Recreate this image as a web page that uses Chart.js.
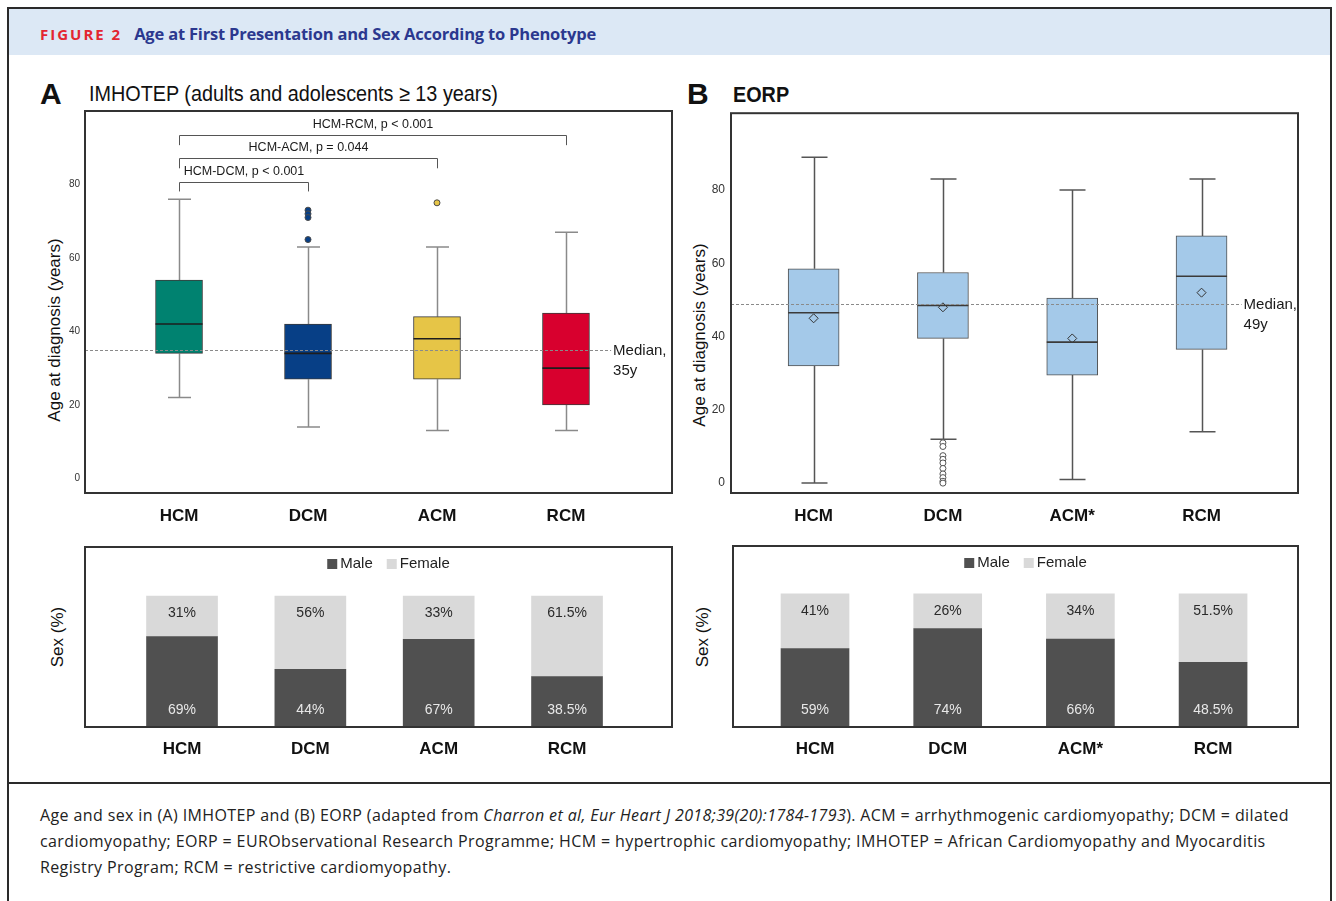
<!DOCTYPE html>
<html>
<head>
<meta charset="utf-8">
<script src="https://cdn.jsdelivr.net/npm/chart.js@4.4.1/dist/chart.umd.min.js"></script>
<style>
  body { margin: 0; background: #fff; }
  #fig { position: relative; width: 1336px; height: 901px; overflow: hidden; font-family: "Liberation Sans", Arial, sans-serif; color: #111; }
  .abs { position: absolute; }
  #frame { left: 7px; top: 7px; width: 1321px; height: 1000px; border: 2px solid #2a2a2a; }
  #band { left: 9px; top: 9px; width: 1321px; height: 46px; background: #dce8f5; }
  #head { left: 40px; top: 22px; font-family: "Open Sans", "Noto Sans", sans-serif; font-weight: 700; font-size: 16.5px; white-space: nowrap; letter-spacing: -0.2px; }
  #head .fig { color: #e32631; letter-spacing: 2px; font-size: 15px; margin-right: 12px; }
  #head .ttl { color: #2b388f; }
  #rule { left: 9px; top: 782px; width: 1321px; height: 2px; background: #2a2a2a; }
  #caption { left: 40px; top: 802px; font-family: "Open Sans", "Noto Sans", sans-serif; font-size: 16px; line-height: 26px; color: #222; white-space: nowrap; letter-spacing: 0.38px; }
  .letter { font-size: 30px; font-weight: 700; line-height: 30px; }
  .ptitle { font-size: 22px; line-height: 24px; transform: scaleX(0.9); transform-origin: 0 50%; white-space: nowrap; }
  .ytitle { font-size: 17px; line-height: 20px; white-space: nowrap; transform: translate(-50%, -50%) rotate(-90deg); color: #111; }
  canvas { position: absolute; }
</style>
</head>
<body>
<div id="fig">
  <div id="band" class="abs"></div>
  <div id="frame" class="abs"></div>
  <div id="head" class="abs"><span class="fig">FIGURE 2</span><span class="ttl">Age at First Presentation and Sex According to Phenotype</span></div>

  <div class="abs letter" style="left:40px;top:79px;">A</div>
  <div class="abs ptitle" style="left:89px;top:82px;">IMHOTEP (adults and adolescents ≥ 13 years)</div>
  <div class="abs letter" style="left:687px;top:79px;">B</div>
  <div class="abs ptitle" style="left:733px;top:83px;font-weight:700;">EORP</div>

  <div class="abs ytitle" style="left:55px;top:330px;">Age at diagnosis (years)</div>
  <div class="abs ytitle" style="left:700px;top:335px;">Age at diagnosis (years)</div>
  <div class="abs ytitle" style="left:58px;top:637px;">Sex (%)</div>
  <div class="abs ytitle" style="left:703px;top:637px;">Sex (%)</div>

  <canvas id="boxA" width="670" height="440" style="left:20px;top:100px;"></canvas>
  <canvas id="boxB" width="660" height="440" style="left:665px;top:100px;"></canvas>
  <canvas id="sexA" width="670" height="235" style="left:20px;top:540px;"></canvas>
  <canvas id="sexB" width="660" height="235" style="left:665px;top:540px;"></canvas>

  <div id="rule" class="abs"></div>
  <div id="caption" class="abs">Age and sex in (A) IMHOTEP and (B) EORP (adapted from <i>Charron et al, Eur Heart J 2018;39(20):1784-1793</i>). ACM = arrhythmogenic cardiomyopathy; DCM = dilated<br>cardiomyopathy; EORP = EURObservational Research Programme; HCM = hypertrophic cardiomyopathy; IMHOTEP = African Cardiomyopathy and Myocarditis<br>Registry Program; RCM = restrictive cardiomyopathy.</div>
</div>

<script>
// Panel A — IMHOTEP, age at diagnosis (years)
const categoriesA = ["HCM", "DCM", "ACM", "RCM"];
const lowA = [22, 14, 13, 13];
const q1A = [34, 27, 27, 20];
const medianA = [42, 34, 38, 30];
const q3A = [54, 42, 44, 45];
const highA = [76, 63, 63, 67];
const outliersA = [[], [73, 72, 71, 65], [75], []];
const overallMedianA = 35;
const comparisonsA = [
  { to: 2, label: "HCM-DCM, p < 0.001" },
  { to: 3, label: "HCM-ACM, p = 0.044" },
  { to: 4, label: "HCM-RCM, p < 0.001" },
];

// Panel B — EORP, age at diagnosis (years)
const categoriesB = ["HCM", "DCM", "ACM*", "RCM"];
const lowB = [0, 12, 1, 14];
const q1B = [32, 39.5, 29.5, 36.5];
const medianB = [46.5, 48.5, 38.5, 56.5];
const q3B = [58.5, 57.5, 50.5, 67.5];
const highB = [89, 83, 80, 83];
const meanB = [45, 48, 39.5, 52];
const outliersB = [[], [11, 10, 7.5, 6.5, 5.5, 4, 2.5, 1.5, 0.5, 0], [], []];
const overallMedianB = 49;

const ageTicks = [0, 20, 40, 60, 80];

// Sex (%)
const maleA = [69, 44, 67, 38.5];
const femaleA = [31, 56, 33, 61.5];
const maleB = [59, 74, 66, 48.5];
const femaleB = [41, 26, 34, 51.5];

const FONT = "'Liberation Sans', Arial, sans-serif";

// chart area frame
const frame = {
  id: "frame",
  afterDraw(chart) {
    const { ctx, chartArea: a } = chart;
    ctx.save();
    ctx.strokeStyle = "#333";
    ctx.lineWidth = 2;
    ctx.strokeRect(a.left, a.top, a.right - a.left, a.bottom - a.top);
    ctx.restore();
  },
};

// whiskers, medians, overall median line, significance brackets
function boxDecor(s) {
  return {
    id: "boxDecor",
    beforeDatasetsDraw(chart) {
      const { ctx, scales: { x, y } } = chart;
      ctx.save();
      ctx.strokeStyle = s.whiskerColor;
      ctx.lineWidth = 1.5;
      s.low.forEach((lo, i) => {
        const px = Math.round(x.getPixelForValue(i + 1)) + 0.5;
        const cap = s.capWidth / 2;
        ctx.beginPath();
        ctx.moveTo(px, y.getPixelForValue(lo));
        ctx.lineTo(px, y.getPixelForValue(s.q1[i]));
        ctx.moveTo(px, y.getPixelForValue(s.q3[i]));
        ctx.lineTo(px, y.getPixelForValue(s.high[i]));
        [lo, s.high[i]].forEach((v) => {
          const py = y.getPixelForValue(v);
          ctx.moveTo(px - cap, py);
          ctx.lineTo(px + cap, py);
        });
        ctx.stroke();
      });
      ctx.restore();
    },
    afterDatasetsDraw(chart) {
      const { ctx, chartArea: a, scales: { x, y } } = chart;
      const bars = chart.getDatasetMeta(0).data;
      ctx.save();
      // medians inside boxes
      ctx.strokeStyle = s.medianColor;
      ctx.lineWidth = 1.6;
      s.median.forEach((m, i) => {
        const b = bars[i];
        const py = y.getPixelForValue(m);
        ctx.beginPath();
        ctx.moveTo(b.x - b.width / 2, py);
        ctx.lineTo(b.x + b.width / 2, py);
        ctx.stroke();
      });
      // overall median
      const my = Math.round(y.getPixelForValue(s.overall)) + 0.5;
      const endX = x.getPixelForValue(s.lineEnd);
      ctx.strokeStyle = "#8a8a8a";
      ctx.lineWidth = 1;
      ctx.setLineDash([3, 2]);
      ctx.beginPath();
      ctx.moveTo(a.left, my);
      ctx.lineTo(endX, my);
      ctx.stroke();
      ctx.setLineDash([]);
      ctx.fillStyle = "#1a1a1a";
      ctx.font = "15px " + FONT;
      ctx.textBaseline = "middle";
      ctx.textAlign = "left";
      ctx.fillText("Median,", endX + 2, my);
      ctx.fillText(s.overall + "y", endX + 2, my + 20);
      // brackets
      (s.comparisons || []).forEach((c, k) => {
        const lvl = 80.8 + k * 6.3;
        const ly = Math.round(y.getPixelForValue(lvl)) + 0.5;
        const dy = y.getPixelForValue(lvl - 2.7);
        const x1 = Math.round(x.getPixelForValue(1)) + 0.5;
        const x2 = Math.round(x.getPixelForValue(c.to)) + 0.5;
        ctx.strokeStyle = "#555";
        ctx.lineWidth = 1;
        ctx.beginPath();
        ctx.moveTo(x1, dy);
        ctx.lineTo(x1, ly);
        ctx.lineTo(x2, ly);
        ctx.lineTo(x2, dy);
        ctx.stroke();
        ctx.fillStyle = "#1a1a1a";
        ctx.font = "12.5px " + FONT;
        ctx.textAlign = "center";
        ctx.fillText(c.label, (x1 + x2) / 2, ly - 11);
      });
      ctx.restore();
    },
  };
}

function boxChart(id, cats, st, look) {
  const datasets = [
    {
      type: "bar",
      data: cats.map((c, i) => ({ x: i + 1, y: [st.q1[i], st.q3[i]] })),
      backgroundColor: look.boxColors,
      borderColor: look.boxBorder,
      borderWidth: 1,
      borderSkipped: false,
      barThickness: look.boxWidth,
      order: 2,
    },
    {
      type: "scatter",
      data: st.outliers.flatMap((list, i) => list.map((v) => ({ x: i + 1, y: v }))),
      pointRadius: 3,
      pointBackgroundColor: st.outliers.flatMap((list, i) => list.map(() => look.outlierFill[i])),
      pointBorderColor: look.outlierBorder,
      pointBorderWidth: 1,
      order: 1,
    },
  ];
  if (st.mean) {
    datasets.push({
      type: "scatter",
      data: st.mean.map((v, i) => ({ x: i + 1, y: v })),
      pointStyle: "rectRot",
      pointRadius: 4.5,
      pointBackgroundColor: "rgba(0,0,0,0)",
      pointBorderColor: "#333",
      pointBorderWidth: 1,
      order: 0,
    });
  }
  return new Chart(document.getElementById(id), {
    data: { datasets },
    options: {
      responsive: false,
      animation: false,
      devicePixelRatio: 1,
      layout: { padding: look.padding },
      plugins: { legend: { display: false }, tooltip: { enabled: false } },
      scales: {
        x: {
          type: "linear",
          offset: false,
          min: look.xMin,
          max: look.xMax,
          grid: { display: false, drawTicks: false, offset: false },
          border: { display: false },
          afterBuildTicks: (sc) => { sc.ticks = cats.map((c, i) => ({ value: i + 1 })); },
          afterFit: (sc) => { sc.height = look.xAxisHeight; },
          ticks: {
            autoSkip: false,
            maxRotation: 0,
            padding: 13,
            color: "#111",
            font: { family: FONT, size: 17, weight: "bold" },
            callback: (v) => cats[v - 1],
          },
        },
        y: {
          min: look.yMin,
          max: look.yMax,
          grid: { display: false, drawTicks: false },
          border: { display: false },
          afterBuildTicks: (sc) => { sc.ticks = ageTicks.map((v) => ({ value: v })); },
          afterFit: (sc) => { sc.width = look.yAxisWidth; },
          ticks: { padding: look.tickPad, color: "#333", font: { family: FONT, size: look.tickSize } },
        },
      },
    },
    plugins: [boxDecor(Object.assign({}, st, look.decor)), frame],
  });
}

// legend drawn inside the plot frame
const innerLegend = {
  id: "innerLegend",
  afterDraw(chart) {
    const { ctx, chartArea: a } = chart;
    ctx.save();
    ctx.font = "15px " + FONT;
    ctx.textBaseline = "middle";
    const items = chart.data.datasets.map((d) => ({ text: d.label, color: d.backgroundColor }));
    const gap = 14;
    const widths = items.map((it) => 13 + ctx.measureText(it.text).width);
    const total = widths.reduce((p, w) => p + w, 0) + gap * (items.length - 1);
    let cx = (a.left + a.right) / 2 + 10 - total / 2;
    const cy = a.top + 17;
    items.forEach((it, i) => {
      ctx.fillStyle = it.color;
      ctx.fillRect(cx, cy - 5, 10, 10);
      ctx.fillStyle = "#222";
      ctx.fillText(it.text, cx + 13, cy);
      cx += widths[i] + gap;
    });
    ctx.restore();
  },
};

// percent labels on the stacked bars
const barLabels = {
  id: "barLabels",
  afterDatasetsDraw(chart) {
    const { ctx } = chart;
    ctx.save();
    ctx.font = "14px " + FONT;
    ctx.textAlign = "center";
    ctx.textBaseline = "middle";
    chart.data.datasets.forEach((ds, di) => {
      chart.getDatasetMeta(di).data.forEach((el, i) => {
        const v = ds.data[i].y;
        if (di === 0) {
          ctx.fillStyle = "#e8e8e8";
          ctx.fillText(v + "%", el.x, el.base - 17);
        } else {
          ctx.fillStyle = "#2a2a2a";
          ctx.fillText(v + "%", el.x, el.y + 17);
        }
      });
    });
    ctx.restore();
  },
};

function sexChart(id, cats, male, female, look) {
  return new Chart(document.getElementById(id), {
    type: "bar",
    data: {
      datasets: [
        { label: "Male", data: male.map((v, i) => ({ x: i + 1, y: v })), backgroundColor: "#505050", barThickness: look.barWidth },
        { label: "Female", data: female.map((v, i) => ({ x: i + 1, y: v })), backgroundColor: "#d9d9d9", barThickness: look.barWidth },
      ],
    },
    options: {
      responsive: false,
      animation: false,
      devicePixelRatio: 1,
      layout: { padding: look.padding },
      plugins: { legend: { display: false }, tooltip: { enabled: false } },
      scales: {
        x: {
          type: "linear",
          stacked: true,
          offset: false,
          min: look.xMin,
          max: look.xMax,
          grid: { display: false, drawTicks: false, offset: false },
          border: { display: false },
          afterBuildTicks: (sc) => { sc.ticks = cats.map((c, i) => ({ value: i + 1 })); },
          afterFit: (sc) => { sc.height = look.xAxisHeight; },
          ticks: {
            autoSkip: false,
            maxRotation: 0,
            padding: 12,
            color: "#111",
            font: { family: FONT, size: 17, weight: "bold" },
            callback: (v) => cats[v - 1],
          },
        },
        y: {
          stacked: true,
          min: 0,
          max: look.yMax,
          grid: { display: false, drawTicks: false },
          border: { display: false },
          ticks: { display: false },
          afterFit: (sc) => { sc.width = look.yAxisWidth; },
        },
      },
    },
    plugins: [barLabels, innerLegend, frame],
  });
}

boxChart("boxA", categoriesA,
  { low: lowA, q1: q1A, median: medianA, q3: q3A, high: highA, outliers: outliersA, overall: overallMedianA, comparisons: comparisonsA },
  {
    boxColors: ["#008270", "#073f86", "#e6c547", "#d8002e"],
    boxBorder: "#3a3a3a",
    boxWidth: 47,
    outlierFill: ["#008270", "#073f86", "#e6c547", "#d8002e"],
    outlierBorder: "#4a4a4a",
    padding: { left: 0, top: 10, right: 18, bottom: 0 },
    xMin: 0.271, xMax: 4.822, yMin: -4, yMax: 100,
    xAxisHeight: 47, yAxisWidth: 65, tickPad: 5, tickSize: 10,
    decor: { whiskerColor: "#8a8a8a", medianColor: "#1d1d1d", capWidth: 23, lineEnd: 4.35 },
  });

boxChart("boxB", categoriesB,
  { low: lowB, q1: q1B, median: medianB, q3: q3B, high: highB, outliers: outliersB, mean: meanB, overall: overallMedianB },
  {
    boxColors: "#a4c9e9",
    boxBorder: "#505050",
    boxWidth: 51,
    outlierFill: ["#fff", "#fff", "#fff", "#fff"],
    outlierBorder: "#555",
    padding: { left: 0, top: 9, right: 27, bottom: 0 },
    xMin: 0.361, xMax: 4.746, yMin: -2.7, yMax: 101,
    xAxisHeight: 47, yAxisWidth: 66, tickPad: 6, tickSize: 12,
    decor: { whiskerColor: "#555", medianColor: "#3a3a3a", capWidth: 26, lineEnd: 4.31 },
  });

sexChart("sexA", categoriesA, maleA, femaleA, {
  barWidth: 71, padding: { left: 0, top: 7, right: 18, bottom: 0 },
  xMin: 0.244, xMax: 4.818, yMax: 137.4, xAxisHeight: 48, yAxisWidth: 65,
});

sexChart("sexB", categoriesB, maleB, femaleB, {
  barWidth: 68, padding: { left: 0, top: 6, right: 27, bottom: 0 },
  xMin: 0.382, xMax: 4.64, yMax: 136, xAxisHeight: 48, yAxisWidth: 68,
});
</script>
</body>
</html>
